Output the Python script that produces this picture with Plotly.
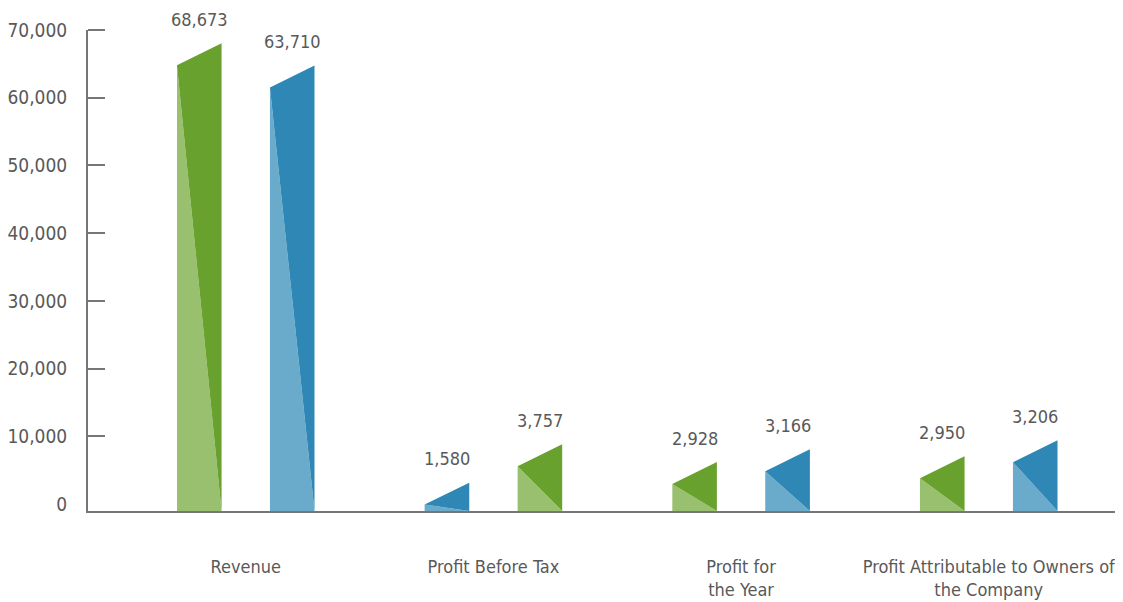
import plotly.graph_objects as go

# ---- data ----
categories = ["Revenue", "Profit Before Tax", "Profit for<br>the Year",
              "Profit Attributable to Owners of<br>the Company"]
first_values = [68673, 1580, 2928, 2950]      # labelled values, first bar
second_values = [63710, 3757, 3166, 3206]     # labelled values, second bar
first_heights = [68050, 3150, 6200, 7050]     # drawn height (right edge), first bar
second_heights = [64740, 8810, 8080, 9410]    # drawn height (right edge), second bar
first_colors = ["green", "blue", "green", "green"]
second_colors = ["blue", "green", "blue", "blue"]
y_ticks = [0, 10000, 20000, 30000, 40000, 50000, 60000, 70000]

# ---- style ----
PALETTE = {"green": ("#98c06e", "#68a12e"), "blue": ("#6aabcc", "#2e87b5")}
TEXT = "#595959"
AXIS = "#767676"
FONT = "Liberation Sans Narrow, DejaVu Sans Condensed, Liberation Sans, sans-serif"
SLANT = 3240          # drop of the left top corner vs right top
BAR_W = 0.18
OFFSET = 0.1877
Y_RANGE = [-1034, 70000]
X_RANGE = [-0.637, 3.530]
BASE = Y_RANGE[0]

fig = go.Figure()
annotations = []


def add_bar(xc, h, color, value):
    light, dark = PALETTE[color]
    L, R = xc - BAR_W / 2, xc + BAR_W / 2
    hl = h - SLANT
    fig.add_trace(go.Scatter(x=[L, L, R, L], y=[BASE, hl, BASE, BASE], fill="toself",
                             fillcolor=light, mode="lines", line=dict(width=0),
                             hoverinfo="skip", showlegend=False))
    fig.add_trace(go.Scatter(x=[L, R, R, L], y=[hl, h, BASE, hl], fill="toself",
                             fillcolor=dark, mode="lines", line=dict(width=0),
                             hoverinfo="skip", showlegend=False))
    annotations.append(dict(x=xc, y=h, xref="x", yref="y", text=f"{value:,}",
                            showarrow=False, yanchor="middle", yshift=24,
                            font=dict(family=FONT, size=18, color=TEXT)))


for i in range(len(categories)):
    add_bar(i - OFFSET, first_heights[i], first_colors[i], first_values[i])
    add_bar(i + OFFSET, second_heights[i], second_colors[i], second_values[i])

# page body has an 8px margin, so the figure is sized to fit the window from (8, 8)
fig.update_layout(
    width=1115, height=594,
    margin=dict(l=80, r=3, t=22, b=91, autoexpand=False),
    plot_bgcolor="white", paper_bgcolor="white",
    font=dict(family=FONT, size=18, color=TEXT),
    showlegend=False,
    annotations=annotations,
    xaxis=dict(range=X_RANGE, tickvals=list(range(len(categories))), ticktext=categories,
               showgrid=False, zeroline=False, showline=True, linecolor=AXIS, linewidth=2,
               ticks="", ticklabelstandoff=38, tickfont=dict(size=18, color=TEXT),
               automargin=False, fixedrange=True),
    yaxis=dict(range=Y_RANGE, tickvals=y_ticks, ticktext=[f"{v:,}" for v in y_ticks],
               showgrid=False, zeroline=False, showline=True, linecolor=AXIS, linewidth=2,
               ticks="", ticklabelstandoff=15, tickfont=dict(size=19, color=TEXT),
               minor=dict(tickvals=y_ticks[1:], ticks="inside", ticklen=17,
                          tickwidth=2, tickcolor=AXIS, showgrid=False),
               automargin=False, fixedrange=True),
)

fig.write_html("out.html")
